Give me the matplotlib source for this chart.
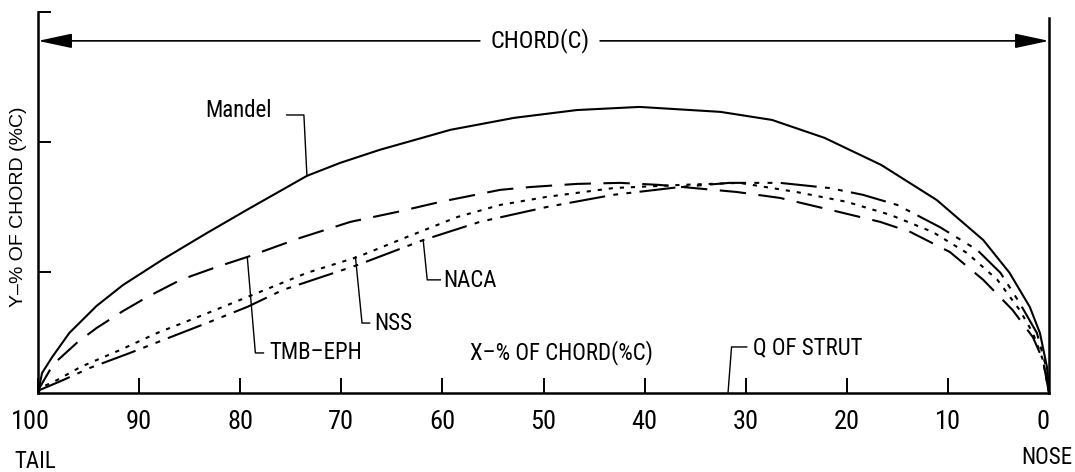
import matplotlib
matplotlib.use('Agg')
import matplotlib.pyplot as plt
from matplotlib import font_manager, transforms

# strut section profiles: x = % of chord (100 = tail, 0 = nose), y = half thickness
mandel_x = [100, 99.6, 98.6, 96.9, 94.2, 91.6, 87.6, 83.3, 79.3, 73.4, 70.1, 66.2, 59.2, 52.9, 46.7,
            40.5, 32.5, 27.4, 22.2, 16.6, 11.1, 6.5, 3.9, 1.9, 0.9, 0.2, 0]
mandel_y = [0, 0.77, 1.38, 2.31, 3.35, 4.15, 5.15, 6.15, 7.05, 8.35, 8.85, 9.35, 10.12, 10.58, 10.88,
            11.0, 10.81, 10.5, 9.81, 8.77, 7.42, 5.88, 4.62, 3.31, 2.31, 1.0, 0]

tmb_x = [100, 99.8, 98.5, 96.1, 94.2, 91.6, 89.2, 85.9, 82.3, 79.3, 74.1, 69.1, 64.5, 60.2, 54.3,
         51.3, 46.7, 42.4, 38.5, 30.9, 26.6, 21.6, 16.7, 13.7, 9.8, 6.5, 3.6, 1.6, 0.6, 0]
tmb_y = [0, 0.23, 1.1, 1.95, 2.5, 3.15, 3.69, 4.35, 4.85, 5.23, 5.96, 6.58, 6.96, 7.35, 7.81,
         7.92, 8.04, 8.08, 8.0, 7.73, 7.5, 7.04, 6.58, 6.19, 5.42, 4.35, 3.19, 2.15, 1.27, 0]

nss_x = [100, 99.8, 98.1, 95.8, 91.9, 88.2, 84.2, 79.3, 73.4, 68.4, 63.5, 58.5, 54.3, 49.7, 43.1,
         36.5, 30.6, 25.0, 20.0, 15.7, 11.5, 8.1, 5.1, 2.9, 1.6, 0.6, 0]
nss_y = [0, 0.19, 0.5, 1.0, 1.65, 2.31, 2.92, 3.69, 4.62, 5.23, 6.0, 6.77, 7.23, 7.54, 7.88,
         8.0, 8.08, 7.73, 7.35, 6.85, 6.19, 5.38, 4.35, 3.19, 2.31, 1.27, 0]

naca_x = [100, 99.8, 97.5, 94.9, 90.9, 87.6, 83.3, 79.3, 75.8, 68.4, 61.9, 56.3, 49.7, 43.1, 36.5,
          31.6, 26.6, 21.7, 18.4, 15.0, 10.8, 7.1, 4.8, 2.9, 1.2, 0.2, 0]
naca_y = [0, 0.12, 0.5, 0.96, 1.54, 2.04, 2.69, 3.31, 3.96, 4.92, 5.88, 6.58, 7.15, 7.62, 7.92,
          8.08, 8.08, 7.88, 7.62, 7.23, 6.38, 5.5, 4.62, 3.46, 2.31, 0.88, 0]

x_ticks = [100, 90, 80, 70, 60, 50, 40, 30, 20, 10, 0]
x_labels = ['100', '90', '80', '70', '60', '50', '40', '30', '20', '10', '0']
y_ticks = [4.65, 9.65, 14.65]

# pick a narrow face if one is installed, else shrink Liberation Sans a bit
fonts = font_manager.fontManager.ttflist
names = {f.name for f in fonts}
txt = dict(family='Liberation Sans' if 'Liberation Sans' in names else 'DejaVu Sans')
scale = 0.84
for cand in ['Liberation Sans Narrow', 'Roboto Condensed', 'DejaVu Sans Condensed']:
    if cand in names:
        txt = dict(family=cand)
        scale = 1.0
        break
else:
    if any(f.name == 'DejaVu Sans' and f.stretch == 'condensed' for f in fonts):
        txt = dict(family='DejaVu Sans', stretch='condensed')
        scale = 0.92
plain = 'Liberation Sans' if 'Liberation Sans' in names else 'DejaVu Sans'

plt.rcParams['lines.scale_dashes'] = False

fig = plt.figure(figsize=(10.75, 4.72), dpi=100)
ax = fig.add_axes([38 / 1075, 79 / 472, 1011 / 1075, 381 / 472])
ax.set_xlim(100, 0)
ax.set_ylim(0, 14.65)

# the four profiles
ax.plot(mandel_x, mandel_y, color='black', lw=1.5)
ax.plot(tmb_x, tmb_y, color='black', lw=1.5, dashes=(19, 9))
ax.plot(nss_x, nss_y, color='black', lw=1.5, dashes=(3, 5))
ax.plot(naca_x, naca_y, color='black', lw=1.5, dashes=(26, 6, 3.5, 6, 3.5, 6))

# frame: left spine, baseline, nose line
ax.spines['top'].set_visible(False)
for s in ['left', 'bottom', 'right']:
    ax.spines[s].set_linewidth(1.8)
ax.spines['right'].set_bounds(0, 14.42)

ax.set_xticks(x_ticks, x_labels, fontsize=19 * scale, **txt)
ax.tick_params(axis='x', direction='in', length=11, width=1.4, pad=12)
ax.set_yticks(y_ticks, [])
ax.tick_params(axis='y', direction='in', length=9, width=1.4)

# nudge the end labels like the drawing
lbls = ax.get_xticklabels()
lbls[0].set_transform(lbls[0].get_transform() + transforms.ScaledTranslation(-8 / 100, 0, fig.dpi_scale_trans))
lbls[-1].set_transform(lbls[-1].get_transform() + transforms.ScaledTranslation(-6 / 100, 0, fig.dpi_scale_trans))

fs = 16.5 * scale

# chord dimension arrow
chord_y = 13.54
arrow = dict(arrowstyle='-|>,head_length=2.1,head_width=0.45', mutation_scale=10,
             color='black', lw=1.2, shrinkA=0, shrinkB=0)
ax.annotate('', xy=(100, chord_y), xytext=(56.3, chord_y), arrowprops=arrow)
ax.annotate('', xy=(0, chord_y), xytext=(44.4, chord_y), arrowprops=arrow)
ax.text(50.3, chord_y, 'CHORD(C)', ha='center', va='center', fontsize=17.5 * scale, **txt)

# leaders and labels
lk = dict(color='black', lw=1.0)
i = mandel_x.index(73.4)
ax.plot([75.4, 73.7, mandel_x[i]], [10.69, 10.69, mandel_y[i]], **lk)
ax.text(76.9, 10.85, 'Mandel', ha='right', va='center', fontsize=fs, **txt)

i = tmb_x.index(79.3)
ax.plot([tmb_x[i], 78.5, 77.7], [tmb_y[i], 1.54, 1.54], **lk)
ax.text(77.1, 1.54, 'TMB\u2013EPH', ha='left', va='center', fontsize=fs, **txt)

i = nss_x.index(68.4)
ax.plot([nss_x[i] + 0.2, 67.95, 67.2], [nss_y[i], 2.69, 2.69], **lk)
ax.text(66.7, 2.69, 'NSS', ha='left', va='center', fontsize=fs, **txt)

i = naca_x.index(61.9)
ax.plot([naca_x[i], 61.5, 60.2], [naca_y[i], 4.35, 4.35], **lk)
ax.text(59.9, 4.33, 'NACA', ha='left', va='center', fontsize=fs, **txt)

ax.plot([31.75, 31.4, 29.9], [0, 1.77, 1.77], **lk)
ax.text(29.3, 1.72, 'Q OF STRUT', ha='left', va='center', fontsize=fs, **txt)

ax.text(48.2, 1.54, 'X\u2013% OF CHORD(%C)', ha='center', va='center', fontsize=fs, **txt)

fig.text(35 / 1075, 1 - 461 / 472, 'TAIL', ha='center', va='center', fontsize=fs, **txt)
fig.text(1072 / 1075, 1 - 457 / 472, 'NOSE', ha='right', va='center', fontsize=fs, **txt)
fig.text(19 / 1075, 1 - 207 / 472, 'Y\u2013% OF CHORD (%C)', rotation=90, ha='center', va='center',
         fontfamily=plain, fontsize=14)

fig.savefig('out.png', dpi=100, facecolor='white')
